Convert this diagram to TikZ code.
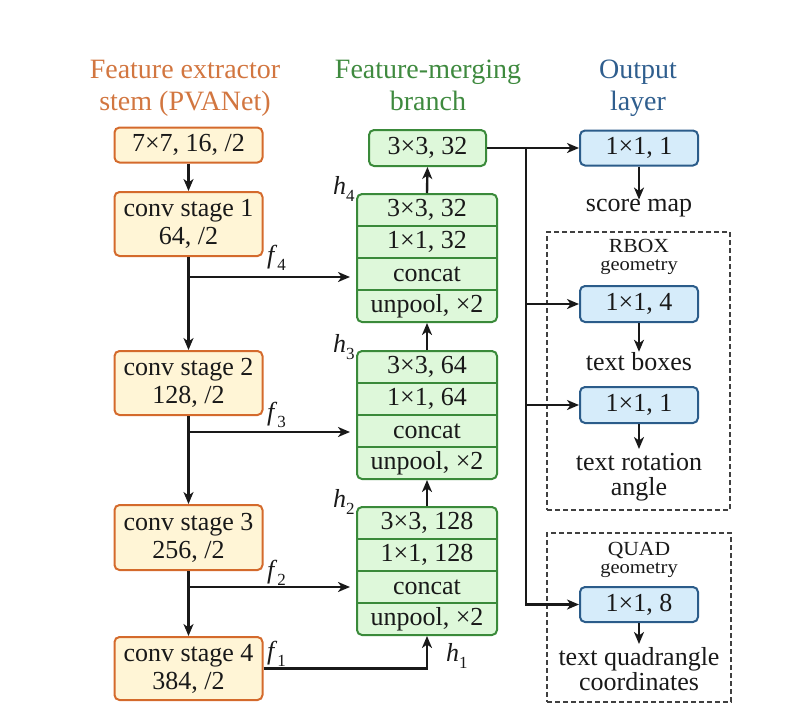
\documentclass[tikz,border=0pt]{standalone}
\usepackage{fontspec}
\setmainfont{Liberation Serif}
\newfontfamily\smallrm[FakeStretch=1.08]{Liberation Serif}
\usetikzlibrary{arrows.meta}
\definecolor{oline}{RGB}{212,106,44}
\definecolor{ofill}{RGB}{255,245,214}
\definecolor{otitle}{RGB}{210,118,64}
\definecolor{gline}{RGB}{58,138,58}
\definecolor{gfill}{RGB}{222,248,218}
\definecolor{gtitle}{RGB}{63,138,63}
\definecolor{bline}{RGB}{43,92,138}
\definecolor{bfill}{RGB}{214,236,250}
\definecolor{btitle}{RGB}{47,94,142}
\definecolor{txt}{RGB}{25,25,25}
\newcommand\lbl[2]{\textit{#1}\raisebox{-7pt}{\fontsize{17}{17}\selectfont #2}}
\tikzset{
  base/.style={font=\rmfamily\fontsize{26}{28}\selectfont, text=txt, inner sep=0pt},
  obox/.style={base, draw=oline, fill=ofill, line width=2pt, rounded corners=5pt, minimum width=148pt, align=center},
  gbox/.style={base, draw=gline, fill=gfill, line width=2pt, rounded corners=5pt},
  bbox/.style={base, draw=bline, fill=bfill, line width=2pt, rounded corners=5pt, minimum width=118pt},
  rowtxt/.style={base},
  sep/.style={draw=gline, line width=1.8pt},
  arr/.style={-{Stealth[length=12pt,width=10pt,inset=3.5pt]}, line width=2.4pt, draw=txt},
  title/.style={font=\rmfamily\fontsize{28}{32}\selectfont, inner sep=0pt, align=center},
  plain/.style={base, align=center},
  dashbox/.style={draw=black!75, line width=1.4pt, dash pattern=on 5pt off 3pt, inner sep=0pt},
  small/.style={inner sep=0pt, align=center, text=txt},
  flab/.style={base, anchor=base west},
}
\begin{document}
\begin{tikzpicture}[x=1pt,y=-1pt]
\useasboundingbox (0,0) rectangle (796,716);
% titles
\node[title, text=otitle, anchor=base] (t1) at (185,78) {Feature extractor};
\node[title, text=otitle, anchor=base] (t1b) at (185,110) {stem (PVANet)};
\node[title, text=gtitle, anchor=base] (t2) at (428,78) {Feature-merging};
\node[title, text=gtitle, anchor=base] (t2b) at (428,110) {branch};
\node[title, text=btitle, anchor=base] (t3) at (638,78) {Output};
\node[title, text=btitle, anchor=base] (t3b) at (638,110) {layer};

% feature extractor
\node[obox, minimum height=35pt] (S0) at (188.5,145) {7×7, 16, /2};
\node[obox, minimum height=64pt] (S1) at (188.5,224) {conv stage 1\\64, /2};
\node[obox, minimum height=64pt] (S2) at (188.5,383) {conv stage 2\\128, /2};
\node[obox, minimum height=65pt] (S3) at (188.5,537.5) {conv stage 3\\256, /2};
\node[obox, minimum height=63pt] (S4) at (188.5,668.5) {conv stage 4\\384, /2};

% merging branch
\node[gbox, minimum width=117pt, minimum height=36pt] (G0) at (427.5,148) {3×3, 32};

\node[gbox, minimum width=140pt, minimum height=128pt] (B4) at (427,258) {};
\draw[sep] (B4.west |- 0,226) -- (B4.east |- 0,226);
\draw[sep] (B4.west |- 0,258) -- (B4.east |- 0,258);
\draw[sep] (B4.west |- 0,290) -- (B4.east |- 0,290);
\node[rowtxt] (B4a) at (427,210) {3×3, 32};
\node[rowtxt] (B4b) at (427,242) {1×1, 32};
\node[rowtxt] (B4c) at (427,274) {concat};
\node[rowtxt] (B4d) at (427,306) {unpool, ×2};

\node[gbox, minimum width=140pt, minimum height=128pt] (B3) at (427,415) {};
\draw[sep] (B3.west |- 0,383) -- (B3.east |- 0,383);
\draw[sep] (B3.west |- 0,415) -- (B3.east |- 0,415);
\draw[sep] (B3.west |- 0,447) -- (B3.east |- 0,447);
\node[rowtxt] (B3a) at (427,367) {3×3, 64};
\node[rowtxt] (B3b) at (427,399) {1×1, 64};
\node[rowtxt] (B3c) at (427,431) {concat};
\node[rowtxt] (B3d) at (427,463) {unpool, ×2};

\node[gbox, minimum width=140pt, minimum height=128pt] (B2) at (427,571) {};
\draw[sep] (B2.west |- 0,539) -- (B2.east |- 0,539);
\draw[sep] (B2.west |- 0,571) -- (B2.east |- 0,571);
\draw[sep] (B2.west |- 0,603) -- (B2.east |- 0,603);
\node[rowtxt] (B2a) at (427,523) {3×3, 128};
\node[rowtxt] (B2b) at (427,555) {1×1, 128};
\node[rowtxt] (B2c) at (427,587) {concat};
\node[rowtxt] (B2d) at (427,619) {unpool, ×2};

% output layer
\node[dashbox, minimum width=183pt, minimum height=278pt] (RB) at (638.5,371) {};
\node[dashbox, minimum width=184pt, minimum height=169pt] (QB) at (639,617.5) {};
\node[small, anchor=base] (rboxt) at (639,252) {\smallrm\fontsize{20}{20}\selectfont RBOX};
\node[small, anchor=base] (rgeo) at (639,270) {\smallrm\fontsize{19}{19}\selectfont geometry};
\node[small, anchor=base] (qboxt) at (639,555) {\smallrm\fontsize{20}{20}\selectfont QUAD};
\node[small, anchor=base] (qgeo) at (639,573) {\smallrm\fontsize{19}{19}\selectfont geometry};

\node[bbox, minimum height=35pt] (O1) at (639,148) {1×1, 1};
\node[bbox, minimum height=36pt] (O4) at (639,304) {1×1, 4};
\node[bbox, minimum height=36pt] (O5) at (639,405) {1×1, 1};
\node[bbox, minimum height=35pt] (O8) at (639,604.5) {1×1, 8};

\node[plain, anchor=base] (score) at (639,211) {score map};
\node[plain, anchor=base] (tboxes) at (639,370) {text boxes};
\node[plain, anchor=north, font=\rmfamily\fontsize{26}{25}\selectfont] (trot) at (639,453) {text rotation\\angle};
\node[plain, anchor=north, font=\rmfamily\fontsize{26}{25}\selectfont] (tquad) at (639,647) {text quadrangle\\coordinates};

% labels
\node[flab] (f4) at (267,263) {\lbl{f}{4}};
\node[flab] (f3) at (267,420) {\lbl{f}{3}};
\node[flab] (f2) at (267,578) {\lbl{f}{2}};
\node[flab] (f1) at (267,659) {\lbl{f}{1}};
\node[flab] (h4) at (333,194) {\lbl{h}{4}};
\node[flab] (h3) at (333,352) {\lbl{h}{3}};
\node[flab] (h2) at (333,507) {\lbl{h}{2}};
\node[flab] (h1) at (446,661) {\lbl{h}{1}};

% extractor connectors
\draw[arr] (S0) -- (S1);
\draw[arr] (S1) -- (S2);
\draw[arr] (S2) -- (S3);
\draw[arr] (S3) -- (S4);
\coordinate (j4) at (188.5,277);
\coordinate (j3) at (188.5,432);
\coordinate (j2) at (188.5,587);
\draw[arr, shorten >=6pt] (j4) -- (j4 -| B4.west);
\draw[arr, shorten >=6pt] (j3) -- (j3 -| B3.west);
\draw[arr, shorten >=6pt] (j2) -- (j2 -| B2.west);
\draw[arr] (S4.east) -| (B2.south);

% merging connectors
\draw[arr] (B2.north) -- (B3.south);
\draw[arr] (B3.north) -- (B4.south);
\draw[arr] (B4.north) -- (G0.south);

% output connectors
\draw[arr] (G0.east) -- (O1.west);
\coordinate (jx) at (526,148);
\draw[arr] (jx) |- (O8.west);
\draw[arr] (jx |- O4.west) -- (O4.west);
\draw[arr] (jx |- O5.west) -- (O5.west);
\draw[arr, shorten >=2pt] (O1.south) -- ([yshift=-3pt]score.north);
\draw[arr, shorten >=3pt] (O4.south) -- ([yshift=-3pt]tboxes.north);
\draw[arr, shorten >=4pt] (O5.south) -- (trot.north);
\draw[arr, shorten >=3pt] (O8.south) -- (tquad.north);
\end{tikzpicture}
\end{document}
